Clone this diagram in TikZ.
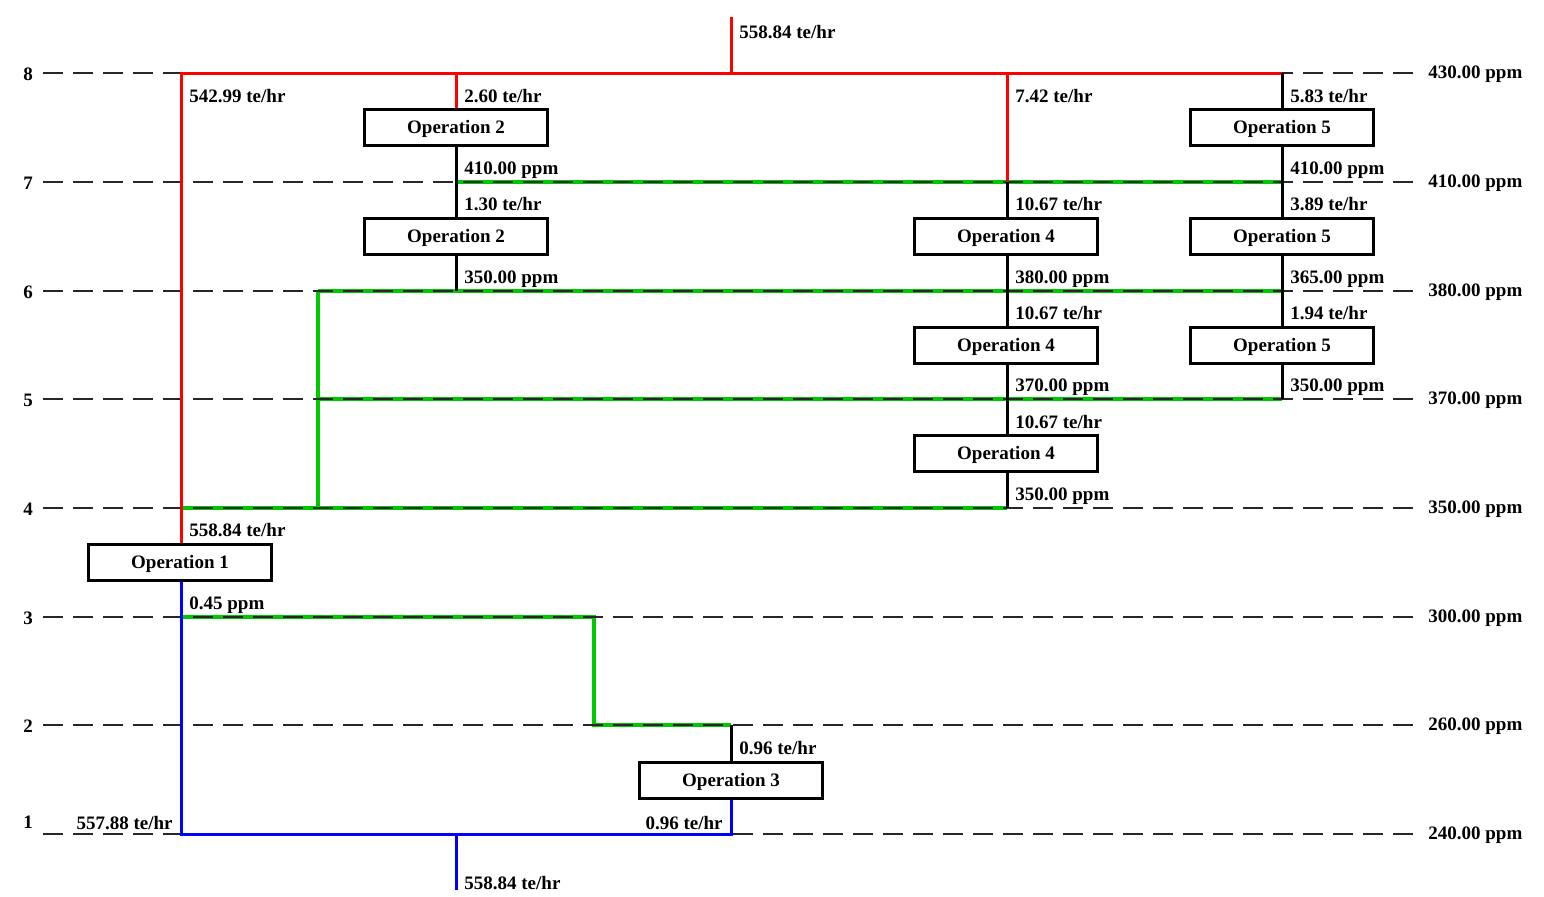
\documentclass[tikz,border=0pt]{standalone}
\usepackage{fontspec}
\setmainfont{Liberation Serif}
\definecolor{flowgreen}{RGB}{0,200,0}
\begin{document}
\begin{tikzpicture}[x=0.5pt,y=-0.5pt,
  font=\bfseries\fontsize{9.5}{11}\selectfont,
  op/.style={draw, line width=1.5pt, minimum width=91.5pt, minimum height=18pt, inner sep=0pt, text depth=0pt, fill=white},
  lbl/.style={anchor=west, inner sep=0pt, yshift=-0.8pt},
  lble/.style={anchor=east, inner sep=0pt, yshift=-0.8pt},
  lvl/.style={black!85, line width=0.75pt, dash pattern=on 10pt off 5pt},
  redl/.style={red, line width=1.5pt},
  bluel/.style={blue, line width=1.5pt},
  greenl/.style={flowgreen, line width=1.9pt},
  blackl/.style={black, line width=1.5pt}]
\useasboundingbox (0,0) rectangle (1544,896);

% operation boxes
\node[op] (op1) at (180,562) {Operation 1};
\node[op] (op2a) at (456,127) {Operation 2};
\node[op] (op2b) at (456,236) {Operation 2};
\node[op] (op3) at (731,780) {Operation 3};
\node[op] (op4a) at (1006,236) {Operation 4};
\node[op] (op4b) at (1006,345) {Operation 4};
\node[op] (op4c) at (1006,453) {Operation 4};
\node[op] (op5a) at (1282,127) {Operation 5};
\node[op] (op5b) at (1282,236) {Operation 5};
\node[op] (op5c) at (1282,345) {Operation 5};

% junction coordinates
\coordinate (top) at (731,17);
\coordinate (t8) at (731,73);
\coordinate (r181) at (181,73);
\coordinate (r456) at (456,73);
\coordinate (r1007) at (1007,73);
\coordinate (r1282) at (1282,73);
\coordinate (g7a) at (456,182);
\coordinate (g7b) at (1007,182);
\coordinate (g7c) at (1282,182);
\coordinate (g6a) at (318,291);
\coordinate (g6b) at (456,291);
\coordinate (g6d) at (1282,291);
\coordinate (g5a) at (318,399);
\coordinate (g5c) at (1282,399);
\coordinate (g4a) at (181,508);
\coordinate (g4b) at (318,508);
\coordinate (g4c) at (1007,508);
\coordinate (g3a) at (181,617);
\coordinate (g3b) at (594,617);
\coordinate (g2a) at (594,725);
\coordinate (g2b) at (731,725);
\coordinate (b1a) at (181,834);
\coordinate (b1b) at (456,834);
\coordinate (b1c) at (731,834);
\coordinate (bot) at (456,890);

% green lines
\draw[greenl] (g7a) -- (g7c);
\draw[greenl] (g6a) -- (g6d);
\draw[greenl] (g5a) -- (g5c);
\draw[greenl] (g4a) -- (g4c);
\draw[greenl] (g6a) -- (g4b);
\draw[greenl] (g3a) -- (g3b) -- (g2a) -- (g2b);

% level lines and labels
\foreach \n/\y/\ppm in {8/73/430.00, 7/182/410.00, 6/291/380.00, 5/399/370.00, 4/508/350.00, 3/617/300.00, 2/725/260.00, 1/834/240.00}{
  \coordinate (L\n) at (43,\y);
  \coordinate (R\n) at (1415,\y);
  \draw[lvl] (L\n) -- (R\n);
  \node[lbl] (ppm\n) at (1428,\y) {\ppm\ ppm};
}
\foreach \n/\y in {8/73, 7/182, 6/291, 5/399, 4/508, 3/617, 2/725, 1/821}{
  \node[inner sep=0pt, yshift=-0.5pt] (lev\n) at (28,\y) {\n};
}

% red lines
\draw[redl] (top) -- (t8);
\draw[redl, line join=miter] (op1.north -| r181) -- (r181) -- (r1282);
\draw[redl] (r456) -- (op2a.north);
\draw[redl] (r1007) -- (g7b);

% black lines
\draw[blackl] (r1282) -- (op5a.north);
\draw[blackl] (op5a.south) -- (op5b.north);
\draw[blackl] (op5b.south) -- (op5c.north);
\draw[blackl] (op5c.south) -- (g5c);
\draw[blackl] (op2a.south) -- (op2b.north);
\draw[blackl] (op2b.south) -- (g6b);
\draw[blackl] (g7b) -- (op4a.north -| g7b);
\draw[blackl] (op4a.south -| g7b) -- (op4b.north -| g7b);
\draw[blackl] (op4b.south -| g7b) -- (op4c.north -| g7b);
\draw[blackl] (op4c.south -| g7b) -- (g4c);
\draw[blackl] (g2b) -- (op3.north);

% blue lines
\draw[bluel, line join=miter] (op1.south -| b1a) -- (b1a) -- (b1c) -- (op3.south);
\draw[bluel] (b1b) -- (bot);

% flow labels
\node[lbl] (f1) at (739,30) {558.84 te/hr};
\node[lbl] (f2) at (189,94) {542.99 te/hr};
\node[lbl] (f3) at (464,94) {2.60 te/hr};
\node[lbl] (f4) at (1015,94) {7.42 te/hr};
\node[lbl] (f5) at (1290,94) {5.83 te/hr};
\node[lbl] (f6) at (464,169) {410.00 ppm};
\node[lbl] (f7) at (1290,169) {410.00 ppm};
\node[lbl] (f8) at (464,202) {1.30 te/hr};
\node[lbl] (f9) at (1015,202) {10.67 te/hr};
\node[lbl] (f10) at (1290,202) {3.89 te/hr};
\node[lbl] (f11) at (464,278) {350.00 ppm};
\node[lbl] (f12) at (1015,278) {380.00 ppm};
\node[lbl] (f13) at (1290,278) {365.00 ppm};
\node[lbl] (f14) at (1015,311) {10.67 te/hr};
\node[lbl] (f15) at (1290,311) {1.94 te/hr};
\node[lbl] (f16) at (1015,386) {370.00 ppm};
\node[lbl] (f17) at (1290,386) {350.00 ppm};
\node[lbl] (f18) at (1015,420) {10.67 te/hr};
\node[lbl] (f19) at (1015,495) {350.00 ppm};
\node[lbl] (f20) at (189,528) {558.84 te/hr};
\node[lbl] (f21) at (189,604) {0.45 ppm};
\node[lbl] (f22) at (739,746) {0.96 te/hr};
\node[lble] (f23) at (723,821) {0.96 te/hr};
\node[lble] (f24) at (173,821) {557.88 te/hr};
\node[lbl] (f25) at (464,881) {558.84 te/hr};
\end{tikzpicture}
\end{document}
